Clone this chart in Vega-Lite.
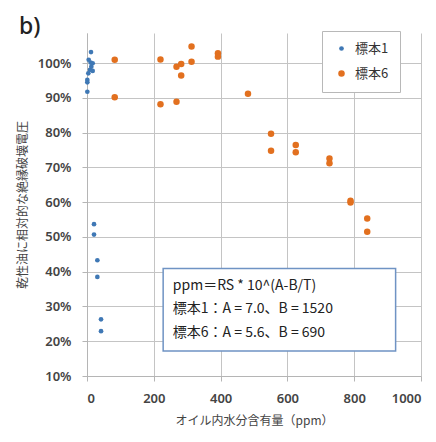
{
  "$schema": "https://vega.github.io/schema/vega-lite/v6.json",
  "width": 334,
  "height": 343,
  "autosize": {"type": "none"},
  "padding": {"left": 87, "top": 33, "right": 15, "bottom": 66},
  "background": "white",
  "title": {"text": "b)", "anchor": "start", "frame": "group", "dx": -68, "dy": 12, "fontSize": 23, "fontWeight": 500, "font": "Noto Sans", "color": "#222222"},
  "config": {
    "view": {"stroke": null},
    "axis": {"labelFont": "Noto Sans", "labelFontWeight": 600, "labelFontSize": 13, "labelColor": "#444444", "labelOverlap": false, "titleFont": "Noto Sans CJK JP", "titleFontWeight": "normal", "titleFontSize": 12, "titleColor": "#444444", "gridColor": "#c4c4c4", "gridWidth": 1, "domainColor": "#b5b5b5", "tickColor": "#b5b5b5", "tickSize": 5}
  },
  "layer": [
    {
      "data": {"values": [
        {"series": "標本1", "ppm": 12, "v": 1.032},
        {"series": "標本1", "ppm": 11, "v": 1.002},
        {"series": "標本1", "ppm": 17, "v": 1.0},
        {"series": "標本1", "ppm": 5, "v": 1.01},
        {"series": "標本1", "ppm": 9, "v": 0.981},
        {"series": "標本1", "ppm": 17, "v": 0.978},
        {"series": "標本1", "ppm": 13, "v": 0.99},
        {"series": "標本1", "ppm": 4, "v": 0.971},
        {"series": "標本1", "ppm": 1, "v": 0.952},
        {"series": "標本1", "ppm": 1, "v": 0.945},
        {"series": "標本1", "ppm": 1, "v": 0.918},
        {"series": "標本1", "ppm": 21, "v": 0.537},
        {"series": "標本1", "ppm": 21, "v": 0.507},
        {"series": "標本1", "ppm": 31, "v": 0.433},
        {"series": "標本1", "ppm": 31, "v": 0.385},
        {"series": "標本1", "ppm": 42, "v": 0.263},
        {"series": "標本1", "ppm": 42, "v": 0.229},
        {"series": "標本6", "ppm": 83, "v": 1.01},
        {"series": "標本6", "ppm": 83, "v": 0.902},
        {"series": "標本6", "ppm": 220, "v": 1.011},
        {"series": "標本6", "ppm": 220, "v": 0.882},
        {"series": "標本6", "ppm": 268, "v": 0.889},
        {"series": "標本6", "ppm": 268, "v": 0.99},
        {"series": "標本6", "ppm": 282, "v": 0.998},
        {"series": "標本6", "ppm": 282, "v": 0.965},
        {"series": "標本6", "ppm": 313, "v": 1.048},
        {"series": "標本6", "ppm": 313, "v": 1.004},
        {"series": "標本6", "ppm": 392, "v": 1.029},
        {"series": "標本6", "ppm": 392, "v": 1.019},
        {"series": "標本6", "ppm": 482, "v": 0.912},
        {"series": "標本6", "ppm": 551, "v": 0.797},
        {"series": "標本6", "ppm": 551, "v": 0.748},
        {"series": "標本6", "ppm": 625, "v": 0.765},
        {"series": "標本6", "ppm": 625, "v": 0.744},
        {"series": "標本6", "ppm": 726, "v": 0.726},
        {"series": "標本6", "ppm": 726, "v": 0.712},
        {"series": "標本6", "ppm": 789, "v": 0.604},
        {"series": "標本6", "ppm": 789, "v": 0.599},
        {"series": "標本6", "ppm": 839, "v": 0.553},
        {"series": "標本6", "ppm": 839, "v": 0.515}
      ]},
      "mark": {"type": "point", "filled": true, "opacity": 1, "shape": "circle"},
      "encoding": {
        "x": {"field": "ppm", "type": "quantitative", "scale": {"domain": [0, 1000], "nice": false, "zero": false}, "axis": {"values": [0, 200, 400, 600, 800, 1000], "tickCount": 12, "format": "d", "title": "オイル内水分含有量（ppm）", "labelPadding": 11, "titlePadding": 10}},
        "y": {"field": "v", "type": "quantitative", "scale": {"domain": [0.1, 1.087], "nice": false, "zero": false}, "axis": {"values": [0.1, 0.2, 0.3, 0.4, 0.5, 0.6, 0.7, 0.8, 0.9, 1.0], "tickCount": 20, "format": ".0%", "title": "乾性油に相対的な絶縁破壊電圧", "labelPadding": 11, "titlePadding": 8}},
        "color": {"field": "series", "type": "nominal", "scale": {"domain": ["標本1", "標本6"], "range": ["#3f78b5", "#e2701f"]}, "legend": {"title": null, "orient": "none", "legendX": 235, "legendY": -2, "strokeColor": "#b8b8b8", "fillColor": "white", "padding": 11, "rowPadding": 11, "symbolOffset": 2, "labelFont": "Noto Sans CJK JP", "labelFontSize": 13, "labelColor": "#333333", "labelOffset": 7}},
        "size": {"field": "series", "type": "nominal", "scale": {"domain": ["標本1", "標本6"], "range": [22, 42]}}
      }
    },
    {
      "data": {"values": [{}]},
      "mark": {"type": "rect", "fill": "white", "stroke": "#6f93c4", "strokeWidth": 1.5},
      "encoding": {
        "x": {"datum": 228},
        "x2": {"datum": 924},
        "y": {"datum": 0.409},
        "y2": {"datum": 0.172}
      }
    },
    {
      "data": {"values": [{}]},
      "mark": {"type": "text", "align": "left", "baseline": "middle", "font": "Noto Sans CJK JP", "fontSize": 14, "color": "#222222", "lineHeight": 23.5, "text": ["ppm＝RS * 10^(A-B/T)", "標本1：A = 7.0、B = 1520", "標本6：A = 5.6、B = 690"]},
      "encoding": {
        "x": {"datum": 257},
        "y": {"datum": 0.359}
      }
    }
  ]
}
